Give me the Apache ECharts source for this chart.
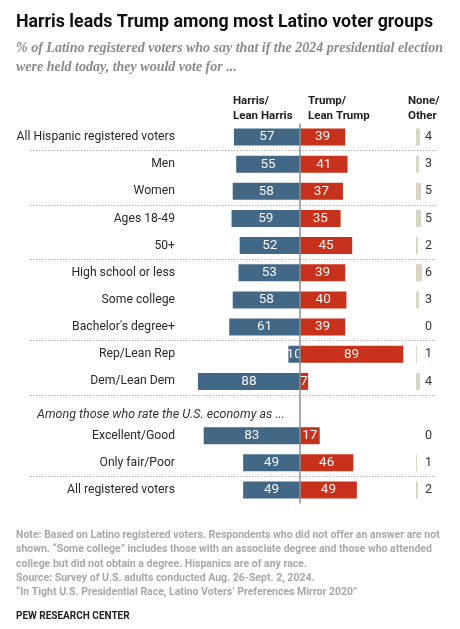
<!DOCTYPE html>
<html><head><meta charset="utf-8">
<script src="https://cdn.jsdelivr.net/npm/echarts@6/dist/echarts.min.js"></script>
<style>html,body{margin:0;padding:0;background:#fff}#c{width:460px;height:629px}</style>
</head><body><div id="c"></div>
<script>
const categories = ['All Hispanic registered voters','Men','Women','Ages 18-49','50+','High school or less','Some college',"Bachelor's degree+",'Rep/Lean Rep','Dem/Lean Dem','','Excellent/Good','Only fair/Poor','All registered voters'];
const harris = [57,55,58,59,52,53,58,61,10,88,null,83,49,49];
const trump = [39,41,37,35,45,39,40,39,89,7,null,17,46,49];
const noneOther = [4,3,5,5,2,6,3,0,1,4,null,0,1,2];
const separatorsBefore = [1,3,5,8,10,13];
const subgroupNote = 'Among those who rate the U.S. economy as ...';
const headers = [['Harris/','Lean Harris'],['Trump/','Lean Trump'],['None/','Other']];
const titleText = 'Harris leads Trump among most Latino voter groups';
const subtitleLines = ['% of Latino registered voters who say that if the 2024 presidential election','were held today, they would vote for ...'];
const noteLines = ['Note: Based on Latino registered voters. Respondents who did not offer an answer are not','shown. \u201cSome college\u201d includes those with an associate degree and those who attended','college but did not obtain a degree. Hispanics are of any race.','Source: Survey of U.S. adults conducted Aug. 26-Sept. 2, 2024.','\u201cIn Tight U.S. Presidential Race, Latino Voters\u2019 Preferences Mirror 2020\u201d'];
const sourceName = 'PEW RESEARCH CENTER';

const BLUE = '#436885', RED = '#c8311b', BEIGE = '#d9d6c6';
const SANS = 'Roboto';
const chart = echarts.init(document.getElementById('c'), null, {renderer:'canvas'});

const gridTop = 123.4, gridH = 380.2;
const center = 300, scale = 1.16, gL = 30, gR = 436;
const sepColors = separatorsBefore.map(()=> '#b5b5b5').concat(['rgba(0,0,0,0)']);

const option = {
  animation:false,
  title:[
    {text:titleText,left:11,top:9,textStyle:{fontFamily:SANS,fontWeight:'bold',fontSize:17.8,color:'#111'}},
    {text:subtitleLines.join('\n'),left:11,top:34,textStyle:{fontFamily:'Liberation Serif',fontStyle:'italic',fontSize:14,color:'#8a8a8a',lineHeight:19}},
    {text:headers[0].join('\n'),left:228,top:89,textStyle:{fontFamily:SANS,fontWeight:'bold',fontSize:11.5,color:'#222',lineHeight:14.5}},
    {text:headers[1].join('\n'),left:303,top:89,textStyle:{fontFamily:SANS,fontWeight:'bold',fontSize:11.5,color:'#222',lineHeight:14.5}},
    {text:headers[2].join('\n'),left:403,top:89,textStyle:{fontFamily:SANS,fontWeight:'bold',fontSize:11.5,color:'#222',lineHeight:14.5}},
    {text:noteLines.join('\n'),left:11,top:523,textStyle:{fontFamily:SANS,fontSize:10.5,color:'#a8a8a8',lineHeight:14.4}},
    {text:sourceName,left:11,top:606,textStyle:{fontFamily:SANS,fontWeight:'bold',fontSize:10,color:'#222'}}
  ],
  graphic:[
    {type:'text',left:37,top:408,style:{text:subgroupNote,font:'italic 12.5px '+SANS,fill:'#333'}}
  ],
  grid:[
    {left:gL,width:gR-gL,top:gridTop,height:gridH,containLabel:false,outerBoundsMode:'none'},
    {left:416,width:8,top:gridTop,height:gridH,containLabel:false,outerBoundsMode:'none'}
  ],
  xAxis:[
    {gridIndex:0,type:'value',min:-(center-gL)/scale,max:(gR-center)/scale,show:false},
    {gridIndex:1,type:'value',min:0,max:8,show:false}
  ],
  yAxis:[
    {gridIndex:0,type:'category',data:categories,inverse:true,
     axisLine:{show:false},
     axisTick:{show:false},
     axisLabel:{interval:0,inside:true,align:'right',margin:(175-gL),fontFamily:SANS,fontSize:12.2,color:'#2a2a2a'},
     splitLine:{show:true,interval:(i)=>separatorsBefore.includes(i),lineStyle:{color:sepColors,type:[1.5,1.5],width:1}}},
    {gridIndex:1,type:'category',data:categories,inverse:true,position:'right',
     axisLine:{show:false},axisTick:{show:false},
     axisLabel:{interval:0,margin:1,fontFamily:SANS,fontSize:12.5,color:'#333',
       formatter:(v,i)=> noneOther[i]==null?'':String(noneOther[i])}}
  ],
  series:[
    {type:'bar',name:'Harris/Lean Harris',xAxisIndex:0,yAxisIndex:0,barWidth:17,barGap:'-100%',
     data:harris.map(v=>v==null?null:-v),itemStyle:{color:BLUE},
     label:{show:true,position:'inside',formatter:p=>Math.abs(p.value),color:'#f4f4f4',fontFamily:SANS,fontSize:13.5}},
    {type:'bar',name:'Trump/Lean Trump',xAxisIndex:0,yAxisIndex:0,barWidth:17,barGap:'-100%',z:3,
     data:trump,itemStyle:{color:RED},
     label:{show:true,position:'inside',formatter:p=>p.value,color:'#f4f4f4',fontFamily:SANS,fontSize:13.5},
     markLine:{silent:true,symbol:'none',label:{show:false},lineStyle:{color:'#8c8c8c',width:1.5,type:'solid'},data:[{xAxis:0}]}},
    {type:'bar',name:'None/Other',xAxisIndex:1,yAxisIndex:1,barWidth:17,
     data:noneOther,itemStyle:{color:BEIGE}}
  ]
};
chart.setOption(option);
</script></body></html>
